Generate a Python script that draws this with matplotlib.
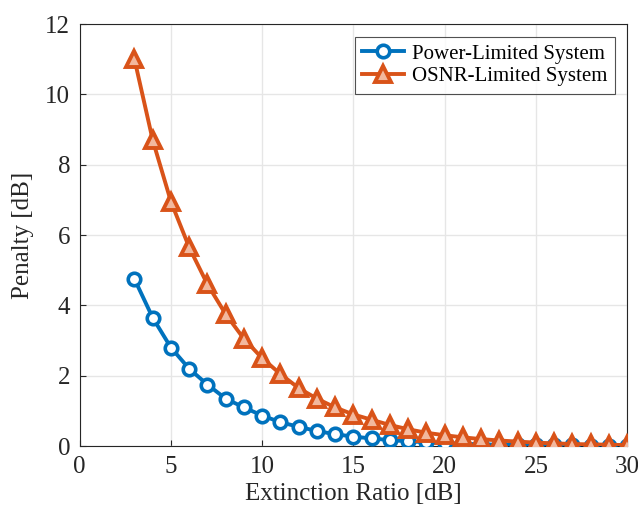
import matplotlib.pyplot as plt
import numpy as np

# 数据
extinction_ratio = list(range(3, 31))
power_limited = [4.75, 3.65, 2.8, 2.2, 1.75, 1.35, 1.1, 0.87, 0.68, 0.55,
                 0.43, 0.34, 0.27, 0.22, 0.17, 0.14, 0.11, 0.09, 0.07, 0.05,
                 0.04, 0.03, 0.03, 0.02, 0.02, 0.01, 0.01, 0.01]
osnr_limited = [11.0, 8.7, 6.95, 5.65, 4.6, 3.75, 3.05, 2.5, 2.05, 1.65,
                1.35, 1.1, 0.9, 0.75, 0.6, 0.48, 0.38, 0.31, 0.25, 0.2,
                0.16, 0.13, 0.1, 0.08, 0.06, 0.05, 0.04, 0.03]
x_ticks = [0, 5, 10, 15, 20, 25, 30]
y_ticks = [0, 2, 4, 6, 8, 10, 12]

plt.rcParams['font.family'] = ['Liberation Serif', 'DejaVu Serif']

fig = plt.figure(figsize=(6.38, 5.14), dpi=100)
ax = fig.add_axes([0.125, 0.132, 0.858, 0.821])

ax.plot(extinction_ratio, power_limited, '-o', color='#0072BD', linewidth=2.8,
        markersize=9, markerfacecolor='white', markeredgewidth=2.6,
        label='Power-Limited System', zorder=3)
ax.plot(extinction_ratio, osnr_limited, '-^', color='#D95319', linewidth=2.8,
        markersize=11, markerfacecolor='#f2b89e', markeredgewidth=2.8,
        label='OSNR-Limited System', zorder=4)

ax.set_xlim(0, 30)
ax.set_ylim(0, 12)
ax.set_xticks(x_ticks)
ax.set_yticks(y_ticks)
ax.tick_params(direction='in', labelsize=18, colors='#262626', length=4, pad=7)
ax.set_xlabel('Extinction Ratio [dB]', fontsize=18, color='#262626', labelpad=4)
ax.set_ylabel('Penalty [dB]', fontsize=18, color='#262626', labelpad=8)
ax.grid(True, color='#e6e6e6', linewidth=1.0)
ax.set_axisbelow(True)
for s in ax.spines.values():
    s.set_color('#262626')
    s.set_linewidth(0.8)

leg = ax.legend(loc='upper right', fontsize=15, frameon=True, fancybox=False,
                edgecolor='#262626', handlelength=2.0, borderpad=0.35,
                labelspacing=0.15, handletextpad=0.4, borderaxespad=0.6)
leg.get_frame().set_linewidth(0.8)

plt.savefig('out.png', dpi=100)
